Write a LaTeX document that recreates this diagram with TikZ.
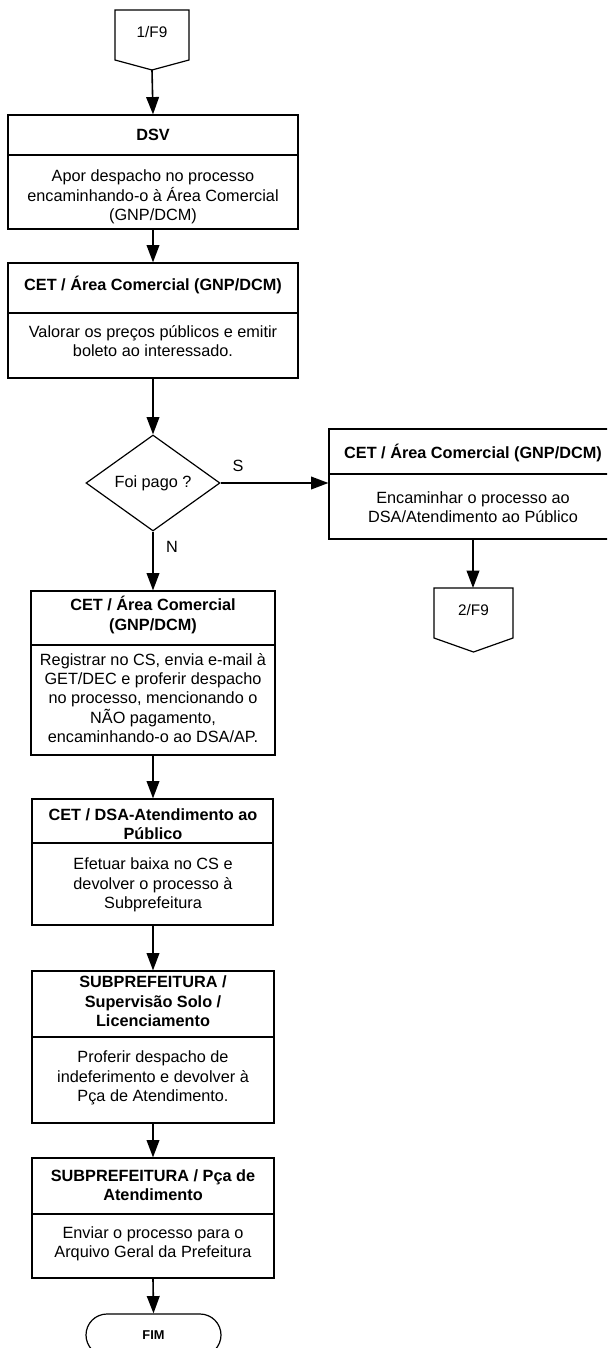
\documentclass[tikz,border=0pt]{standalone}
\usepackage{fontspec}
\setmainfont{Liberation Sans}
\usetikzlibrary{arrows.meta,shapes.geometric}
\begin{document}
\begin{tikzpicture}[x=0.75pt,y=-0.75pt,
  boxframe/.style={draw,line width=0.9pt,rectangle,inner sep=0pt},
  divider/.style={line width=1.1pt},
  flow/.style={line width=1.2pt,-{Triangle[length=13pt,width=9.5pt]}},
  txt/.style={align=center,inner sep=0pt,font=\fontsize{12.2}{14.5}\selectfont},
  ttl/.style={txt,font=\fontsize{12.2}{14.5}\selectfont\bfseries},
  offpage/.style={line width=0.9pt}]
\useasboundingbox (0,0) rectangle (607,1348);
\clip (0,0) rectangle (607,1348);

% off-page connector at the top
\draw[offpage] (115,10) -- (189,10) -- (189,60) -- (152,70) -- (115,60) -- cycle;
\node[txt,font=\fontsize{11.5}{13}\selectfont] (op1) at (152,32) {1/F9};
\coordinate (op1tip) at (152,70);

% DSV
\node[boxframe,minimum width=217.5pt,minimum height=85.5pt] (b1) at (153,172) {};
\draw[divider] (b1.west |- 0,155) -- (b1.east |- 0,155);
\node[ttl] (b1t) at (153,135) {DSV};
\node[txt] (b1b) at (153,197) {Apor despacho no processo\\encaminhando-o à Área Comercial\\(GNP/DCM)};

% CET / Area Comercial - valoracao
\node[boxframe,minimum width=217.5pt,minimum height=86.25pt] (b2) at (153,320.5) {};
\draw[divider] (b2.west |- 0,313) -- (b2.east |- 0,313);
\node[ttl] (b2t) at (153,285) {CET / Área Comercial (GNP/DCM)};
\node[txt] (b2b) at (153,341) {Valorar os preços públicos e emitir\\boleto ao interessado.};

% decision
\node[draw,diamond,line width=0.9pt,inner sep=0pt,minimum width=100.5pt,minimum height=72pt] (dia) at (153,483) {};
\node[txt] (diat) at (153,483) {Foi pago ?};

% branch S
\node[boxframe,minimum width=216pt,minimum height=82.5pt] (r1) at (473,484) {};
\draw[divider] (r1.west |- 0,474) -- (r1.east |- 0,474);
\node[ttl] (r1t) at (473,453) {CET / Área Comercial (GNP/DCM)};
\node[txt] (r1b) at (473,507) {Encaminhar o processo ao\\DSA/Atendimento ao Público};

% off-page connector on the right
\draw[offpage] (434,588) -- (513,588) -- (513,638) -- (473.5,652) -- (434,638) -- cycle;
\node[txt,font=\fontsize{11.5}{13}\selectfont] (op2) at (473.5,610) {2/F9};
\coordinate (op2top) at (473,588);

% branch N
\node[boxframe,minimum width=183pt,minimum height=123pt] (b3) at (153,673) {};
\draw[divider] (b3.west |- 0,645) -- (b3.east |- 0,645);
\node[ttl] (b3t) at (153,615) {CET / Área Comercial\\(GNP/DCM)};
\node[txt] (b3b) at (153,698) {Registrar no CS, envia e-mail à\\GET/DEC e proferir despacho\\no processo, mencionando o\\NÃO pagamento,\\encaminhando-o ao DSA/AP.};

\node[boxframe,minimum width=180.75pt,minimum height=94.5pt] (b4) at (152.5,862) {};
\draw[divider] (b4.west |- 0,843) -- (b4.east |- 0,843);
\node[ttl] (b4t) at (153,824) {CET / DSA-Atendimento ao\\Público};
\node[txt] (b4b) at (153,885) {Efetuar baixa no CS e\\devolver o processo à\\Subprefeitura};

\node[boxframe,minimum width=181.5pt,minimum height=114pt] (b5) at (153,1047) {};
\draw[divider] (b5.west |- 0,1037) -- (b5.east |- 0,1037);
\node[ttl] (b5t) at (153,1001.5) {SUBPREFEITURA /\\Supervisão Solo /\\Licenciamento};
\node[txt] (b5b) at (153,1078) {Proferir despacho de\\indeferimento e devolver à\\Pça de Atendimento.};

\node[boxframe,minimum width=181.5pt,minimum height=90pt] (b6) at (153,1218) {};
\draw[divider] (b6.west |- 0,1214) -- (b6.east |- 0,1214);
\node[ttl] (b6t) at (153,1185.5) {SUBPREFEITURA / Pça de\\Atendimento};
\node[txt] (b6b) at (153,1243.5) {Enviar o processo para o\\Arquivo Geral da Prefeitura};

% terminator
\node[draw,line width=0.9pt,rounded corners=15.75pt,inner sep=0pt,minimum width=101.25pt,minimum height=31.5pt,
      font=\fontsize{9.6}{11}\selectfont\bfseries] (fim) at (153.5,1335) {FIM};

% connectors
\draw[flow] (op1tip) -- (b1.north);
\draw[flow] (b1.south) -- (b2.north);
\draw[flow] (b2.south) -- (dia.north);
\draw[flow] (dia.east) -- (dia.east -| r1.west);
\draw[flow] (dia.south) -- (b3.north);
\draw[flow] (r1.south) -- (op2top);
\draw[flow] (b3.south) -- (b4.north -| b3.south);
\draw[flow] (b4.south -| b3.south) -- (b5.north);
\draw[flow] (b5.south) -- (b6.north);
\draw[flow] (b6.south) -- (fim.north);

% branch labels
\node[txt] (lblS) at (238,466) {S};
\node[txt] (lblN) at (172,547) {N};
\end{tikzpicture}
\end{document}
